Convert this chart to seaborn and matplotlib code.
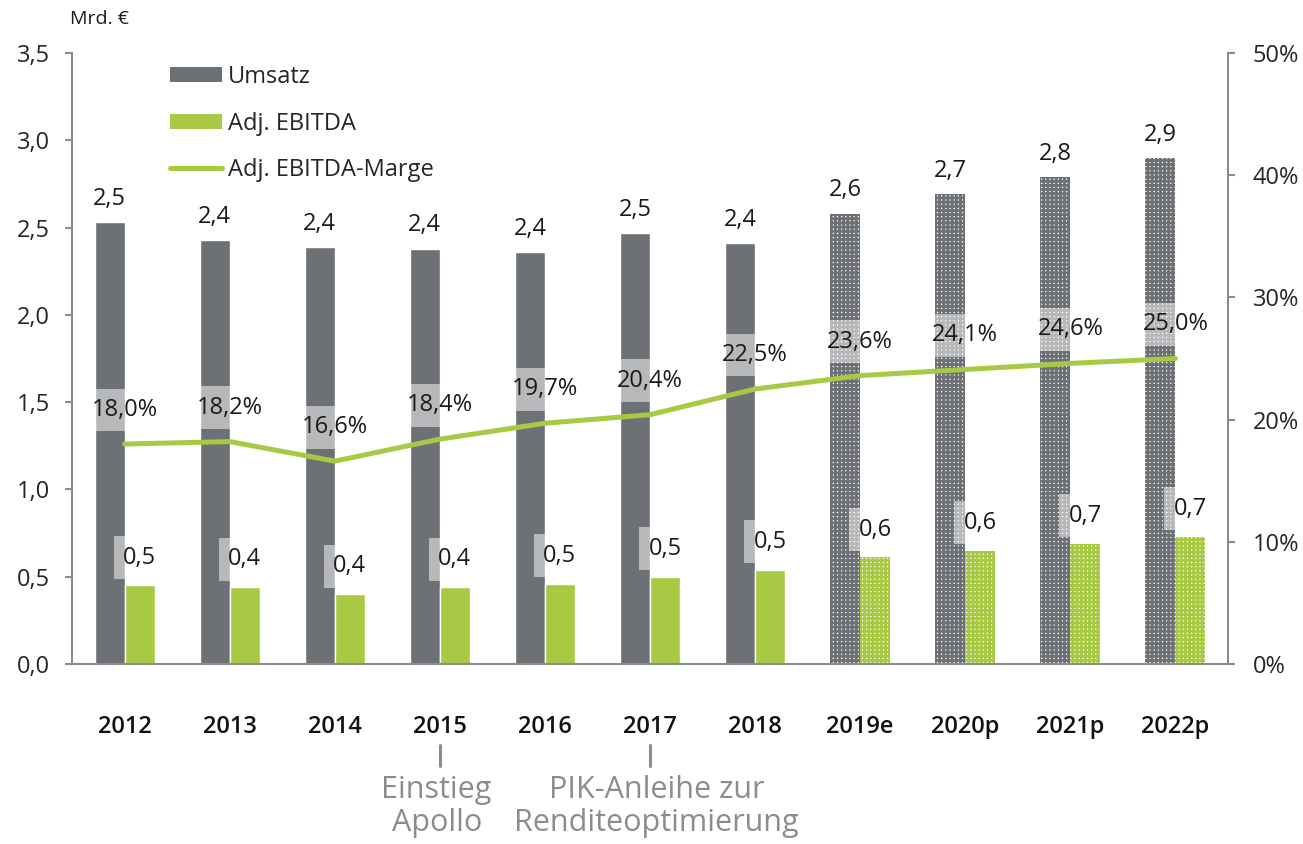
import numpy as np
import pandas as pd
import matplotlib
matplotlib.use('Agg')
import matplotlib.pyplot as plt
import matplotlib.transforms as mtrans
from matplotlib.patches import Patch
from matplotlib.lines import Line2D
import seaborn as sns

# Daten
jahre = ['2012', '2013', '2014', '2015', '2016', '2017', '2018', '2019e', '2020p', '2021p', '2022p']
umsatz = [2.53, 2.43, 2.39, 2.38, 2.36, 2.47, 2.41, 2.58, 2.69, 2.79, 2.90]
ebitda = [0.45, 0.44, 0.40, 0.44, 0.46, 0.50, 0.54, 0.61, 0.65, 0.69, 0.73]
marge = [18.0, 18.2, 16.6, 18.4, 19.7, 20.4, 22.5, 23.6, 24.1, 24.6, 25.0]
umsatz_lbl = ['2,5', '2,4', '2,4', '2,4', '2,4', '2,5', '2,4', '2,6', '2,7', '2,8', '2,9']
ebitda_lbl = ['0,5', '0,4', '0,4', '0,4', '0,5', '0,5', '0,5', '0,6', '0,6', '0,7', '0,7']
marge_lbl = ['18,0%', '18,2%', '16,6%', '18,4%', '19,7%', '20,4%', '22,5%', '23,6%', '24,1%', '24,6%', '25,0%']
n_ist = 7  # ab 2019e Plan-/Schaetzwerte (gepunktet)

grau = '#6d7175'
gruen = '#a8c944'
achse = '#8c8c8c'
txtgrau = '#8a8d90'

sns.set_theme(style='white')
plt.rcParams['font.family'] = ['Open Sans', 'DejaVu Sans']
plt.rcParams['hatch.linewidth'] = 2.0
fs = 17

df = pd.DataFrame({'Jahr': jahre * 2,
                   'Serie': ['Umsatz'] * len(jahre) + ['Adj. EBITDA'] * len(jahre),
                   'Wert': umsatz + ebitda})

fig = plt.figure(figsize=(13.03, 8.44), dpi=100)
ax = fig.add_axes([0.0553, 0.2133, 0.8871, 0.7239])
sns.barplot(data=df, x='Jahr', y='Wert', hue='Serie', palette=[grau, gruen],
            width=0.57, errorbar=None, legend=False, saturation=1, ax=ax)

# Planjahre gepunktet
for cont, col in zip(ax.containers, [grau, gruen]):
    for i, bar in enumerate(cont):
        if i >= n_ist:
            bar.set_facecolor('white')
            bar.set_edgecolor(col)
            bar.set_hatch('++++')
            bar.set_linewidth(0)

box = dict(boxstyle='square,pad=0.4', facecolor=(1, 1, 1, 0.5), edgecolor='none')

# Werte-Labels
for i, bar in enumerate(ax.containers[0]):
    x = bar.get_x() + bar.get_width() / 2
    ax.annotate(umsatz_lbl[i], (x, bar.get_height()), xytext=(0, 8), textcoords='offset points',
                ha='center', va='bottom', fontsize=fs, color='#1a1a1a')
for i, bar in enumerate(ax.containers[1]):
    x = bar.get_x() + bar.get_width() / 2
    ax.annotate(ebitda_lbl[i], (x, bar.get_height()), xytext=(0, 20), textcoords='offset points',
                ha='center', va='center', fontsize=fs, color='#1a1a1a', bbox=box)

ax.set_ylim(0, 3.5)
ax.set_xlim(-0.5, 10.5)
ax.set_yticks(np.arange(0, 3.51, 0.5))
ax.set_yticklabels([f'{v:.1f}'.replace('.', ',') for v in np.arange(0, 3.51, 0.5)], fontsize=fs)
ax.set_xticks(np.arange(-0.5, 10.6, 1), minor=True)
ax.tick_params(axis='x', which='minor', length=7, width=1.5, color=achse, direction='out')
ax.tick_params(axis='y', length=5, width=1.5, color=achse, direction='out', pad=11, left=True)
ax.set_xlabel('')
ax.set_ylabel('')
for s in ['top', 'right']:
    ax.spines[s].set_visible(False)
for s in ['left', 'bottom']:
    ax.spines[s].set_color(achse)
    ax.spines[s].set_linewidth(1.5)

# Marge auf zweiter Achse
ax2 = ax.twinx()
sns.lineplot(x=np.arange(len(jahre)), y=marge, color=gruen, linewidth=3.6, ax=ax2,
             solid_capstyle='round')
for i, m in enumerate(marge):
    ax2.annotate(marge_lbl[i], (i, m), xytext=(0, 24.5), textcoords='offset points',
                 ha='center', va='center', fontsize=fs, color='#1a1a1a', bbox=box)
ax2.set_ylim(0, 50)
ax2.set_xlim(-0.5, 10.5)
ax2.set_yticks(range(0, 51, 10))
ax2.set_yticklabels([f'{v}%' for v in range(0, 51, 10)], fontsize=fs)
ax2.tick_params(axis='y', length=5, width=1.5, color=achse, direction='out', pad=13, right=True)
for s in ['top', 'left', 'bottom']:
    ax2.spines[s].set_visible(False)
ax2.spines['right'].set_color(achse)
ax2.spines['right'].set_linewidth(1.5)

# Jahresbeschriftung (nach dem Linienplot, da die x-Achse geteilt ist)
ax.set_xticks(range(len(jahre)))
ax.set_xticklabels(jahre, fontsize=fs, fontweight='semibold', color='#111111')
ax.tick_params(axis='x', which='major', length=0, pad=37)
ax2.tick_params(axis='x', which='both', labelbottom=False, bottom=False)

# Legende
handles = [Patch(facecolor=grau, edgecolor='none', label='Umsatz'),
           Patch(facecolor=gruen, edgecolor='none', label='Adj. EBITDA'),
           Line2D([], [], color=gruen, linewidth=3.6, solid_capstyle='round', label='Adj. EBITDA-Marge')]
ax2.legend(handles=handles, loc='upper left', bbox_to_anchor=(0.0848, 0.98), frameon=False,
           fontsize=fs, handlelength=2.2, handleheight=0.6, handletextpad=0.25,
           labelspacing=0.95, borderpad=0, borderaxespad=0)

fig.text(0.054, 0.978, 'Mrd. €', fontsize=14, color='#1a1a1a', va='center')

# Ereignisse unter der Achse
tr = mtrans.blended_transform_factory(ax.transData, ax.transAxes)
for xi in [3, 5]:
    ax.plot([xi, xi], [-0.1326, -0.167], color=txtgrau, linewidth=2.2, transform=tr, clip_on=False)
ax.text(2.97, -0.181, 'Einstieg\nApollo', transform=tr, ha='center', va='top',
        fontsize=22, color=txtgrau, linespacing=1.15)
ax.text(5.06, -0.181, 'PIK-Anleihe zur\nRenditeoptimierung', transform=tr, ha='center', va='top',
        fontsize=22, color=txtgrau, linespacing=1.15)

fig.savefig('out.png', dpi=100)
